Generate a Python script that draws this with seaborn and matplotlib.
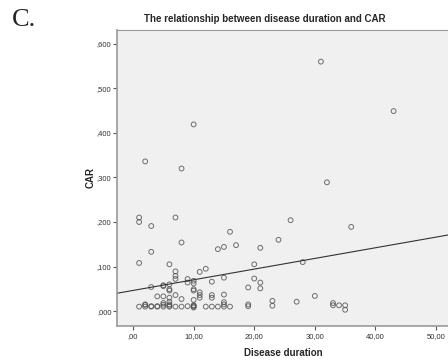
import numpy as np
import matplotlib
matplotlib.use("Agg")
import matplotlib.pyplot as plt
from matplotlib.ticker import FuncFormatter
import pandas as pd
import seaborn as sns

# ====================================================================
#   DATA
# ====================================================================
duration_high = [31, 43, 10, 2, 8, 32]
car_high = [0.560, 0.449, 0.419, 0.336, 0.320, 0.289]

duration_mid = [1, 1, 7, 3, 26, 36, 16, 24, 8, 17, 15, 14, 21, 3,
                28, 1, 6, 20, 12, 7, 11, 7, 15, 20, 9, 7, 10, 13, 9, 21,
                10, 6, 5, 5, 3, 19, 21, 6, 10, 10, 6, 11]
car_mid = [0.210, 0.200, 0.210, 0.191, 0.204, 0.189, 0.178, 0.160, 0.154, 0.148, 0.144, 0.139, 0.142, 0.133,
           0.110, 0.108, 0.105, 0.105, 0.095, 0.089, 0.088, 0.079, 0.075, 0.073, 0.072, 0.072, 0.068, 0.066, 0.064, 0.064,
           0.062, 0.060, 0.058, 0.056, 0.054, 0.053, 0.051, 0.049, 0.049, 0.046, 0.046, 0.042]

duration_low = [7, 11, 13, 15, 30, 4, 5, 6, 11, 13, 8, 10, 23, 6, 27, 15, 5, 33,
                15, 19, 2, 23, 33, 34, 35, 35, 19]
car_low = [0.036, 0.036, 0.036, 0.037, 0.034, 0.033, 0.033, 0.030, 0.030, 0.030, 0.027, 0.025, 0.023, 0.021, 0.021, 0.020, 0.018, 0.018,
           0.015, 0.015, 0.015, 0.012, 0.013, 0.013, 0.013, 0.003, 0.011]

duration_floor = [1, 2, 2, 3, 3, 4, 4, 5, 5, 6, 6, 6, 7, 8, 9, 10, 10, 10, 10, 12, 13, 14, 15, 16]
car_floor = [0.010, 0.010, 0.014, 0.010, 0.011, 0.010, 0.011, 0.010, 0.014, 0.010, 0.012, 0.015, 0.010, 0.010,
             0.011, 0.010, 0.008, 0.012, 0.013, 0.010, 0.010, 0.010, 0.010, 0.010]

df = pd.DataFrame({
    "duration": duration_high + duration_mid + duration_low + duration_floor,
    "car": car_high + car_mid + car_low + car_floor,
})

x_ticks = [0, 10, 20, 30, 40, 50]
y_ticks = [0.0, 0.1, 0.2, 0.3, 0.4, 0.5, 0.6]


def spss_num(decimals):
    def fmt(v, pos):
        s = f"{v:.{decimals}f}".replace(".", ",")
        if s.startswith("0,"):
            s = s[1:]
        return s
    return FuncFormatter(fmt)


# ====================================================================
#   PLOT
# ====================================================================
sns.set_style("white")
plt.rcParams["font.family"] = ["Liberation Sans", "DejaVu Sans"]

fig = plt.figure(figsize=(4.48, 3.63), dpi=100)
ax = fig.add_axes([117 / 448, 1 - 326 / 363, 1 - 117 / 448 + 0.003, (326 - 30) / 363])
ax.set_facecolor("#f0f0f0")

# limits first so the fit line runs across the whole frame (truncate=False)
ax.set_xlim(-2.65, 52.2)
ax.set_ylim(-0.0335, 0.631)

sns.regplot(data=df, x="duration", y="car", ax=ax, ci=None, truncate=False,
            scatter_kws=dict(s=12, facecolors="none", edgecolors="#4d4d4d", linewidths=0.7),
            line_kws=dict(color="#333333", linewidth=0.8))

ax.set_xlim(-2.65, 52.2)
ax.set_ylim(-0.0335, 0.631)
ax.set_xticks(x_ticks)
ax.set_yticks(y_ticks)
ax.xaxis.set_major_formatter(spss_num(2))
ax.yaxis.set_major_formatter(spss_num(3))
ax.tick_params(axis="both", direction="out", length=3, width=0.8, color="#555555",
               labelsize=5.5, labelcolor="#333333", pad=1, bottom=True, left=True)
ax.tick_params(axis="x", pad=2)

for side, sp in ax.spines.items():
    sp.set_color("#9a9a9a")
    sp.set_linewidth(1.2 if side in ("left", "bottom") else 0.8)

ax.set_xlabel("Disease duration", fontsize=7, fontweight="bold", labelpad=6)
ax.set_ylabel("CAR", fontsize=7, fontweight="bold", labelpad=1)

fig.text(265 / 448, 1 - 19 / 363, "The relationship between disease duration and CAR",
         ha="center", va="center", fontsize=7, fontweight="bold")
fig.text(12 / 448, 1 - 20 / 363, "C.", ha="left", va="center", fontsize=19,
         family=["Liberation Serif", "DejaVu Serif"])

fig.savefig("out.png", dpi=100)
